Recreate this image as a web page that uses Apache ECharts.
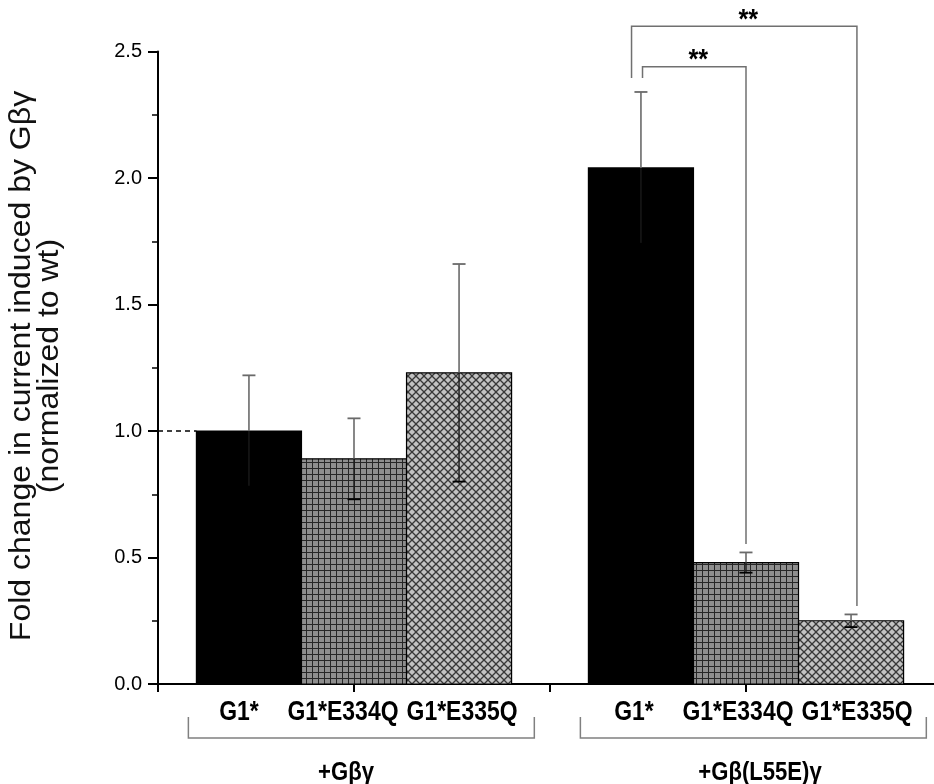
<!DOCTYPE html>
<html><head><meta charset="utf-8">
<script src="https://cdn.jsdelivr.net/npm/echarts@6/dist/echarts.min.js"></script>
<style>html,body{margin:0;padding:0;background:#fff}#c{width:934px;height:784px}</style>
</head><body><div id="c"></div>
<script>
// ---- data ----
const groups = ['+Gβγ', '+Gβ(L55E)γ'];
const categories = ['G1*', 'G1*E334Q', 'G1*E335Q'];
const values = [[1.00, 0.89, 1.23], [2.04, 0.48, 0.25]];
const errors = [[0.22, 0.16, 0.43], [0.30, 0.04, 0.025]];
const yTickLabels = ['0.0', '0.5', '1.0', '1.5', '2.0', '2.5'];
const sigPairs = [{ group: 1, a: 0, b: 1, text: '**' }, { group: 1, a: 0, b: 2, text: '**' }];

// ---- styling ----
const FONT = '"Liberation Sans", Arial, sans-serif';
const BAR_W = 0.536;
function gridTile() {
  const c = document.createElement('canvas'); c.width = 6; c.height = 6;
  const g = c.getContext('2d');
  g.fillStyle = '#8e8e8e'; g.fillRect(0, 0, 6, 6);
  g.fillStyle = '#262626'; g.fillRect(0, 0, 6, 1); g.fillRect(0, 0, 1, 6);
  return c;
}
function crossTile() {
  const s = 8; const c = document.createElement('canvas'); c.width = s; c.height = s;
  const g = c.getContext('2d');
  g.fillStyle = '#c2c2c2'; g.fillRect(0, 0, s, s);
  g.strokeStyle = '#383838'; g.lineWidth = 1.3;
  for (const o of [-s, 0, s]) {
    g.beginPath(); g.moveTo(o, 0); g.lineTo(o + s, s); g.stroke();
    g.beginPath(); g.moveTo(o + s, 0); g.lineTo(o, s); g.stroke();
  }
  return c;
}
const fills = ['#000000', { image: gridTile(), repeat: 'repeat' }, { image: crossTile(), repeat: 'repeat' }];
const catLabelDx = [-10, -11, 3];

const groupCenter = gi => gi * 2 + 1;
const barX = (gi, ci) => groupCenter(gi) + (ci - 1) * BAR_W;

const barData = [];
groups.forEach((g, gi) => categories.forEach((c, ci) => {
  barData.push([barX(gi, ci), values[gi][ci], errors[gi][ci], ci, gi]);
}));

function renderBar(params, api) {
  const x = api.value(0), v = api.value(1), e = api.value(2), ci = api.value(3), gi = api.value(4);
  const p0 = api.coord([x - BAR_W / 2, v]);
  const p1 = api.coord([x + BAR_W / 2, 0]);
  const top = api.coord([x, v + e]);
  const mid = api.coord([x, v]);
  const bot = api.coord([x, v - e]);
  const cap = 6.5;
  const errColor = '#6a6a6a';
  return {
    type: 'group', children: [
      { type: 'rect', shape: { x: p0[0], y: p0[1], width: p1[0] - p0[0], height: p1[1] - p0[1] },
        style: { fill: fills[ci], stroke: '#000', lineWidth: 1.2 } },
      { type: 'line', shape: { x1: top[0], y1: top[1], x2: mid[0], y2: mid[1] }, style: { stroke: errColor, lineWidth: 1.6 } },
      { type: 'line', shape: { x1: mid[0], y1: mid[1], x2: bot[0], y2: bot[1] }, style: { stroke: '#1a1a1a', lineWidth: 1.4 } },
      { type: 'line', shape: { x1: top[0] - cap, y1: top[1], x2: top[0] + cap, y2: top[1] }, style: { stroke: errColor, lineWidth: 1.8 } },
      { type: 'line', shape: { x1: bot[0] - cap, y1: bot[1], x2: bot[0] + cap, y2: bot[1] }, style: { stroke: '#000', lineWidth: 1.8 } },
      { type: 'text', x: (p0[0] + p1[0]) / 2 + catLabelDx[ci] + (gi === 1 ? 3 : 0), y: p1[1] + 29, scaleX: 0.85,
        style: { text: categories[ci], align: 'center', verticalAlign: 'middle', fill: '#000',
          font: 'bold 27px ' + FONT } }
    ]
  };
}

const groupData = groups.map((g, gi) => [groupCenter(gi), gi]);
function renderGroup(params, api) {
  const gc = api.value(0), gi = api.value(1);
  const left = api.coord([gc - 0.845, 0]);
  const right = api.coord([gc + 0.92, 0]);
  const base = left[1];
  const children = [
    { type: 'polyline', shape: { points: [[left[0], base + 33], [left[0], base + 54], [right[0], base + 54], [right[0], base + 33]] },
      style: { stroke: '#808080', lineWidth: 1.5, fill: null } },
    { type: 'text', x: api.coord([gc, 0])[0] + (gi === 0 ? -8 : 14), y: base + 89, scaleX: 0.85,
      style: { text: groups[gi], align: 'center', verticalAlign: 'middle', fill: '#000', font: 'bold 26px ' + FONT } }
  ];
  if (gi === 0) {
    const a = api.coord([0, values[0][0]]);
    const b = api.coord([barX(0, 0) - BAR_W / 2, values[0][0]]);
    children.push({ type: 'line', shape: { x1: a[0], y1: a[1], x2: b[0], y2: b[1] },
      style: { stroke: '#000', lineWidth: 1.5, lineDash: [5, 4] } });
  }
  return { type: 'group', children };
}

const sigData = sigPairs.map((s, k) => [k]);
function renderSig(params, api) {
  const k = api.value(0);
  const s = sigPairs[k];
  const gi = s.group;
  const topA = values[gi][s.a] + errors[gi][s.a];
  const topB = values[gi][s.b] + errors[gi][s.b];
  const xa = barX(gi, s.a) + (k === 0 ? 0.008 : -0.048);
  const xb = barX(gi, s.b) + k * 0.03;
  const yTop = topA + 0.1 + k * 0.16;
  const pA = api.coord([xa, topA + 0.055]);
  const pT1 = api.coord([xa, yTop]);
  const pT2 = api.coord([xb, yTop]);
  const pB = api.coord([xb, topB + 0.033]);
  return {
    type: 'group', children: [
      { type: 'polyline', shape: { points: [pA, pT1, pT2, pB] }, style: { stroke: '#707070', lineWidth: 1.5, fill: null } },
      { type: 'text', x: (pT1[0] + pT2[0]) / 2 + 4, y: pT1[1] - 6, scaleX: 0.9,
        style: { text: s.text, align: 'center', verticalAlign: 'middle', fill: '#000', font: 'bold 28px ' + FONT } }
    ]
  };
}

const chart = echarts.init(document.getElementById('c'), null, { renderer: 'canvas' });
chart.setOption({
  animation: false,
  backgroundColor: '#fff',
  grid: { left: 158, top: 51.5, width: 784, height: 632.5, containLabel: false, outerBoundsMode: 'none' },
  xAxis: {
    type: 'value', min: 0, max: 4, interval: 1,
    axisLine: { show: true, onZero: true, lineStyle: { color: '#000', width: 2 } },
    axisTick: { show: true, length: 8, lineStyle: { color: '#000', width: 2 } },
    axisLabel: { show: false }, splitLine: { show: false }
  },
  yAxis: {
    type: 'value', min: 0, max: 2.5, interval: 0.5,
    axisLine: { show: true, lineStyle: { color: '#000', width: 2 } },
    axisTick: { show: true, length: 10, lineStyle: { color: '#000', width: 2 } },
    minorTick: { show: true, splitNumber: 2, length: 6, lineStyle: { color: '#000', width: 1.5 } },
    axisLabel: { formatter: (v, i) => yTickLabels[i], fontSize: 20, fontFamily: FONT, color: '#000', margin: 16 },
    splitLine: { show: false }, minorSplitLine: { show: false }
  },
  graphic: [
    { type: 'text', x: 22, y: 366, rotation: Math.PI / 2, scaleY: 0.92,
      style: { text: 'Fold change in current induced by Gβγ', align: 'center', verticalAlign: 'middle',
        font: '32px ' + FONT, fill: '#111' } },
    { type: 'text', x: 50, y: 366, rotation: Math.PI / 2, scaleY: 0.92,
      style: { text: '(normalized to wt)', align: 'center', verticalAlign: 'middle',
        font: '32px ' + FONT, fill: '#111' } }
  ],
  series: [
    { type: 'custom', renderItem: renderBar, data: barData, clip: false, z: 2 },
    { type: 'custom', renderItem: renderGroup, data: groupData, clip: false, z: 3 },
    { type: 'custom', renderItem: renderSig, data: sigData, clip: false, z: 3 }
  ]
});
</script></body></html>
